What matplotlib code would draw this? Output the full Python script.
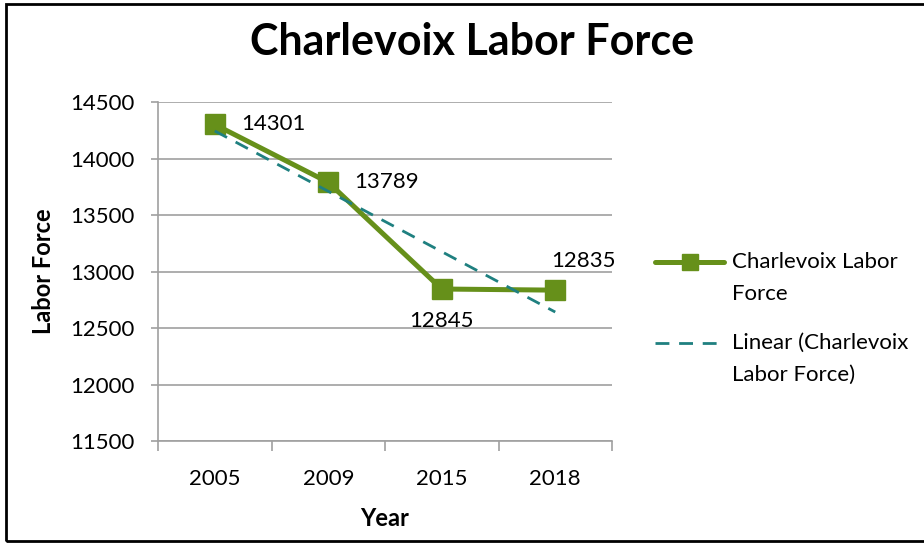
import numpy as np
import matplotlib
matplotlib.use("Agg")
import matplotlib.pyplot as plt
from matplotlib.lines import Line2D
from matplotlib.patches import Rectangle

years = ["2005", "2009", "2015", "2018"]
labor_force = [14301, 13789, 12845, 12835]
y_ticks = [11500, 12000, 12500, 13000, 13500, 14000, 14500]
title = "Charlevoix Labor Force"
series_name = "Charlevoix Labor\nForce"
trend_name = "Linear (Charlevoix\nLabor Force)"

plt.rcParams['font.family'] = ['Lato', 'DejaVu Sans']

GREEN = '#66901A'
TEAL = '#1F8080'
GRID = '#A0A0A0'
FS = 16

fig = plt.figure(figsize=(9.24, 5.45), dpi=100)
W, H = 924, 545
ax = fig.add_axes([158 / W, 1 - 441 / H, (612 - 158) / W, (441 - 102) / H])

x = np.arange(len(years))
ax.plot(x, labor_force, color=GREEN, lw=3.6, marker='s', ms=14,
        markerfacecolor=GREEN, markeredgecolor=GREEN, zorder=3)

# linear trendline computed from the data (Excel-style, x = 1..n)
coef = np.polyfit(x + 1, labor_force, 1)
trend = np.polyval(coef, x + 1)
ax.plot(x, trend, color=TEAL, lw=2.0, ls=(0, (5, 3.5)), zorder=4)

ax.set_xlim(-0.5, len(years) - 0.5)
ax.set_ylim(y_ticks[0], y_ticks[-1])
ax.set_yticks(y_ticks)
ax.set_yticklabels([str(v) for v in y_ticks], fontsize=FS)
ax.set_xticks(x)
ax.set_xticklabels(years, fontsize=FS)
ax.tick_params(axis='x', length=0, pad=20)
ax.tick_params(axis='y', length=5, color=GRID, width=1.2, pad=12)
# category boundary ticks
ax.set_xticks(np.arange(-0.5, len(years)), minor=True)
ax.tick_params(axis='x', which='minor', length=7, color=GRID, width=1.2)

ax.grid(axis='y', color=GRID, lw=1.2)
ax.set_axisbelow(True)
for s in ['top', 'right']:
    ax.spines[s].set_visible(False)
for s in ['left', 'bottom']:
    ax.spines[s].set_color(GRID)
    ax.spines[s].set_linewidth(1.2)

ax.set_xlabel("Year", fontsize=17, fontweight='bold', labelpad=13)
ax.set_ylabel("Labor Force", fontsize=17, fontweight='bold', labelpad=11)

# data labels
offsets = [((19, 0), 'left', 'center'),
           ((19, 0), 'left', 'center'),
           ((0, -16), 'center', 'top'),
           ((20, 14), 'center', 'bottom')]
for xi, v, (off, ha, va) in zip(x, labor_force, offsets):
    ax.annotate(str(v), (xi, v), xytext=off, textcoords='offset points',
                ha=ha, va=va, fontsize=FS)

fig.text((247 + 697) / 2 / W, 1 - 42 / H, title, ha='center', va='center',
         fontsize=31, fontweight='bold')

# legend (Excel style, text wrapped)
lx0, lx1, tx = 655 / W, 724 / W, 732 / W
line_gap = 32 / H
y1 = 1 - 262 / H
fig.add_artist(Line2D([lx0, lx1], [y1, y1], color=GREEN, lw=3.6,
                      transform=fig.transFigure, solid_capstyle='round'))
fig.add_artist(Line2D([(lx0 + lx1) / 2], [y1], color=GREEN, marker='s', ms=12,
                      transform=fig.transFigure))
for i, part in enumerate(series_name.split("\n")):
    fig.text(tx, y1 - i * line_gap, part, ha='left', va='center', fontsize=FS)
y2 = 1 - 343 / H
fig.add_artist(Line2D([lx0, lx1], [y2, y2], color=TEAL, lw=2.0, ls=(0, (5, 3.5)),
                      transform=fig.transFigure))
for i, part in enumerate(trend_name.split("\n")):
    fig.text(tx, y2 - i * line_gap, part, ha='left', va='center', fontsize=FS)

# chart border
fig.add_artist(Rectangle((6 / W, 4 / H), 1.2, 1 - 8 / H, fill=False,
                         ec='black', lw=2, transform=fig.transFigure))

fig.savefig("out.png", dpi=100)
